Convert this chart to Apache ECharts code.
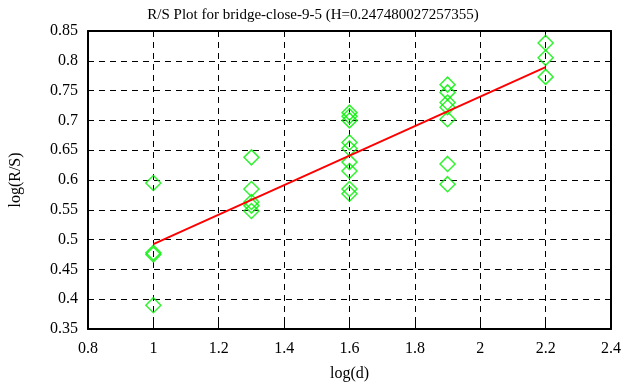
<!DOCTYPE html>
<html>
<head>
<meta charset="utf-8">
<script src="https://cdn.jsdelivr.net/npm/echarts@6/dist/echarts.min.js"></script>
<style>
  html, body { margin: 0; padding: 0; background: #fff; }
  #main { width: 626px; height: 387px; }
</style>
</head>
<body>
<div id="main"></div>
<script>
// R/S points, one list per log(d) value
const logD = [1, 1.3, 1.6, 1.9, 2.2];
const rsAt1 = [0.595, 0.478, 0.475, 0.39];
const rsAt13 = [0.638, 0.585, 0.563, 0.557, 0.548];
const rsAt16 = [0.713, 0.707, 0.70, 0.663, 0.653, 0.63, 0.615, 0.585, 0.577];
const rsAt19 = [0.76, 0.747, 0.73, 0.722, 0.702, 0.627, 0.593];
const rsAt22 = [0.83, 0.805, 0.773];
// fitted line end points
const fitX = [1, 2.2];
const fitY = [0.4925, 0.7895];

const hurst = '0.247480027257355';

let myChart = echarts.init(document.getElementById('main'));

let groups = [rsAt1, rsAt13, rsAt16, rsAt19, rsAt22];
let points = [];
groups.forEach((g, i) => {
    for (let v of g) points.push([logD[i], v]);
});
let fitLine = fitX.map((x, i) => [x, fitY[i]]);

const font = 'Liberation Serif';
let dashed = { show: true, lineStyle: { color: '#000', type: [6, 5], width: 1 } };

let option = {
    animation: false,
    title: {
        text: 'R/S Plot for bridge-close-9-5 (H=' + hurst + ')',
        left: 'center',
        top: 3,
        textStyle: { fontFamily: font, fontSize: 15, fontWeight: 'normal', color: '#000' }
    },
    grid: { left: 82, right: 15, top: 31, bottom: 56 },
    xAxis: [{
        type: 'value',
        min: 0.8, max: 2.4, interval: 0.2,
        name: 'log(d)',
        nameLocation: 'middle',
        nameGap: 37,
        nameTextStyle: { fontFamily: font, fontSize: 16, color: '#000' },
        axisLine: { show: true, lineStyle: { color: '#000', width: 2 } },
        axisTick: { show: true, inside: true, length: 6, lineStyle: { color: '#000', width: 1 } },
        axisLabel: { fontFamily: font, fontSize: 16, color: '#000', margin: 12 },
        splitLine: dashed
    }, {
        type: 'value',
        position: 'top',
        min: 0.8, max: 2.4, interval: 0.2,
        axisLine: { show: true, lineStyle: { color: '#000', width: 2 } },
        axisTick: { show: true, inside: true, length: 6, lineStyle: { color: '#000', width: 1 } },
        axisLabel: { show: false },
        splitLine: { show: false }
    }],
    yAxis: [{
        type: 'value',
        min: 0.35, max: 0.85, interval: 0.05,
        name: 'log(R/S)',
        nameLocation: 'middle',
        nameGap: 64,
        nameTextStyle: { fontFamily: font, fontSize: 16, color: '#000' },
        axisLine: { show: true, lineStyle: { color: '#000', width: 2 } },
        axisTick: { show: true, inside: true, length: 6, lineStyle: { color: '#000', width: 1 } },
        axisLabel: { fontFamily: font, fontSize: 16, color: '#000', margin: 10,
            formatter: v => String(Math.round(v * 100) / 100) },
        splitLine: dashed
    }, {
        type: 'value',
        position: 'right',
        min: 0.35, max: 0.85, interval: 0.05,
        axisLine: { show: true, lineStyle: { color: '#000', width: 2 } },
        axisTick: { show: true, inside: true, length: 6, lineStyle: { color: '#000', width: 1 } },
        axisLabel: { show: false },
        splitLine: { show: false }
    }],
    series: [{
        type: 'scatter',
        data: points,
        symbol: 'diamond',
        symbolSize: 15,
        itemStyle: { color: 'rgba(0,0,0,0)', borderColor: '#00ee00', borderWidth: 1.5 },
        z: 3
    }, {
        type: 'line',
        data: fitLine,
        symbol: 'none',
        lineStyle: { color: '#ff0000', width: 2 },
        z: 4
    }]
};
myChart.setOption(option);
</script>
</body>
</html>
